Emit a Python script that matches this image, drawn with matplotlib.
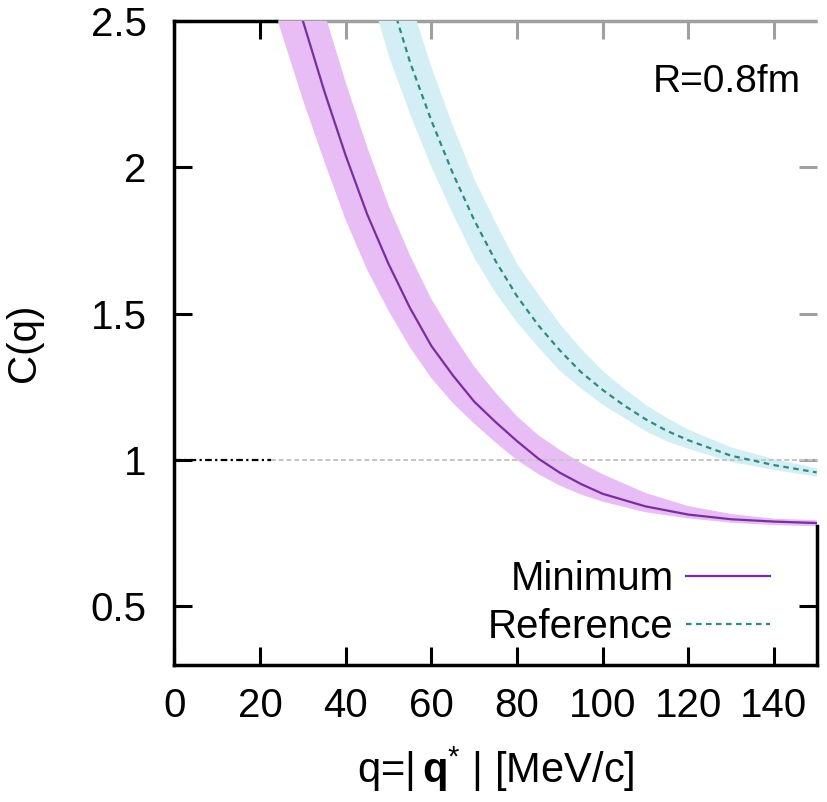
import matplotlib
matplotlib.use('Agg')
import matplotlib.pyplot as plt
from matplotlib.lines import Line2D

# ---------------- data ----------------
q_minimum = [20, 25, 30, 35, 40, 45, 50, 55, 60, 65, 70, 75, 80, 85, 90, 95, 100, 110, 120, 130, 140, 150]
c_minimum = [3.25, 2.74, 2.50, 2.26, 2.04, 1.84, 1.67, 1.52, 1.39, 1.29, 1.20, 1.13, 1.065, 1.005, 0.957, 0.918,
             0.885, 0.842, 0.814, 0.798, 0.790, 0.785]
c_minimum_hi = [3.60, 3.20, 2.77, 2.53, 2.29, 2.07, 1.87, 1.70, 1.55, 1.43, 1.32, 1.23, 1.15, 1.085, 1.035, 0.99,
                0.952, 0.888, 0.843, 0.816, 0.80, 0.795]
c_minimum_lo = [2.69, 2.46, 2.23, 2.02, 1.82, 1.65, 1.51, 1.385, 1.28, 1.195, 1.125, 1.06, 1.0, 0.952, 0.913, 0.882,
                0.858, 0.822, 0.801, 0.786, 0.778, 0.774]

q_reference = [45, 50, 55, 60, 65, 70, 75, 80, 85, 90, 95, 100, 105, 110, 115, 120, 130, 140, 150]
c_reference = [2.90, 2.60, 2.36, 2.16, 1.98, 1.82, 1.68, 1.56, 1.46, 1.375, 1.30, 1.24, 1.187, 1.14, 1.10,
               1.068, 1.015, 0.983, 0.958]
c_reference_hi = [3.30, 2.87, 2.57, 2.34, 2.14, 1.96, 1.81, 1.67, 1.565, 1.465, 1.38, 1.305, 1.245, 1.19, 1.145,
                  1.105, 1.045, 1.005, 0.974]
c_reference_lo = [2.63, 2.38, 2.18, 2.00, 1.84, 1.69, 1.57, 1.47, 1.385, 1.305, 1.245, 1.19, 1.145, 1.10, 1.065,
                  1.04, 0.995, 0.968, 0.945]

x_ticks = [0, 20, 40, 60, 80, 100, 120, 140]
y_ticks = [0.5, 1, 1.5, 2, 2.5]
y_tick_labels = ['0.5', '1', '1.5', '2', '2.5']
series_names = ['Minimum', 'Reference']
annotation = 'R=0.8fm'
baseline = 1.0
baseline_black_end = 22.5
top_black_end = 23.7

# ---------------- style ----------------
FONT = ['Liberation Sans', 'DejaVu Sans']
plt.rcParams['font.family'] = FONT
plt.rcParams['mathtext.fontset'] = 'custom'
plt.rcParams['mathtext.rm'] = 'Liberation Sans'
plt.rcParams['mathtext.bf'] = 'Liberation Sans:bold'

col_min_line = '#7a2e9e'
col_min_band = '#e8bdf6'
col_ref_line = '#2f8a7e'
col_ref_band = '#d3eff5'
gray = '#a0a0a0'

fig = plt.figure(figsize=(8.27, 8.02), dpi=100)
ax = fig.add_axes([0.211, 0.1708, 0.7765, 0.803])

ax.fill_between(q_minimum, c_minimum_lo, c_minimum_hi, color=col_min_band, lw=0, zorder=1)
ax.fill_between(q_reference, c_reference_lo, c_reference_hi, color=col_ref_band, lw=0, zorder=1)

ax.hlines(baseline, 0, baseline_black_end, colors='black', linestyles=(0, (3, 1.5, 1, 1.5)), lw=1.6, zorder=2)
ax.hlines(baseline, baseline_black_end, 150, colors='#c4c4c4', linestyles=(0, (2.5, 1.5)), lw=1.4, zorder=2)

ax.plot(q_minimum, c_minimum, color=col_min_line, lw=1.6, zorder=3)
ax.plot(q_reference, c_reference, color=col_ref_line, lw=1.6, ls=(0, (2.5, 2)), zorder=3)

ax.set_xlim(0, 150)
ax.set_ylim(0.3, 2.5)
ax.set_xticks(x_ticks)
ax.set_yticks(y_ticks)
ax.set_yticklabels(y_tick_labels)

ax.tick_params(direction='in', length=13, width=2.2, labelsize=29, top=True, right=True)
ax.tick_params(axis='x', pad=16)
ax.tick_params(axis='y', pad=20)

for s in ['left', 'bottom']:
    ax.spines[s].set_linewidth(2.5)
ax.spines['top'].set_bounds(0, top_black_end)
ax.spines['top'].set_linewidth(2.5)
ax.hlines(2.5, top_black_end, 150, colors=gray, lw=2.5, clip_on=False, zorder=0.5)
ax.spines['right'].set_bounds(0.3, 0.775)
ax.spines['right'].set_linewidth(2.5)

ax.set_xlabel(r'q=|$\,\mathbf{q}^{*}$ | [MeV/c]', fontsize=30, labelpad=14)
ax.set_ylabel('C(q)', fontsize=29, labelpad=34)

ax.text(0.975, 0.905, annotation, transform=ax.transAxes, ha='right', va='center', fontsize=28)

handles = [Line2D([], [], color=col_min_line, lw=1.6),
           Line2D([], [], color=col_ref_line, lw=1.6, ls=(0, (2.5, 2)))]
ax.legend(handles, series_names, loc='lower right', bbox_to_anchor=(0.975, -0.018), frameon=False,
          markerfirst=False, fontsize=29, handlelength=2.1, handletextpad=0.3, labelspacing=0.25,
          borderpad=0.25)


def color_ticks():
    for t, v in zip(ax.xaxis.get_major_ticks(), x_ticks):
        t.tick2line.set_markeredgecolor(gray if v > 25 else 'black')
    for t, v in zip(ax.yaxis.get_major_ticks(), y_ticks):
        t.tick2line.set_markeredgecolor(gray if v > 0.8 else 'black')


color_ticks()
fig.canvas.draw()
color_ticks()
fig.savefig('out.png', dpi=100)
